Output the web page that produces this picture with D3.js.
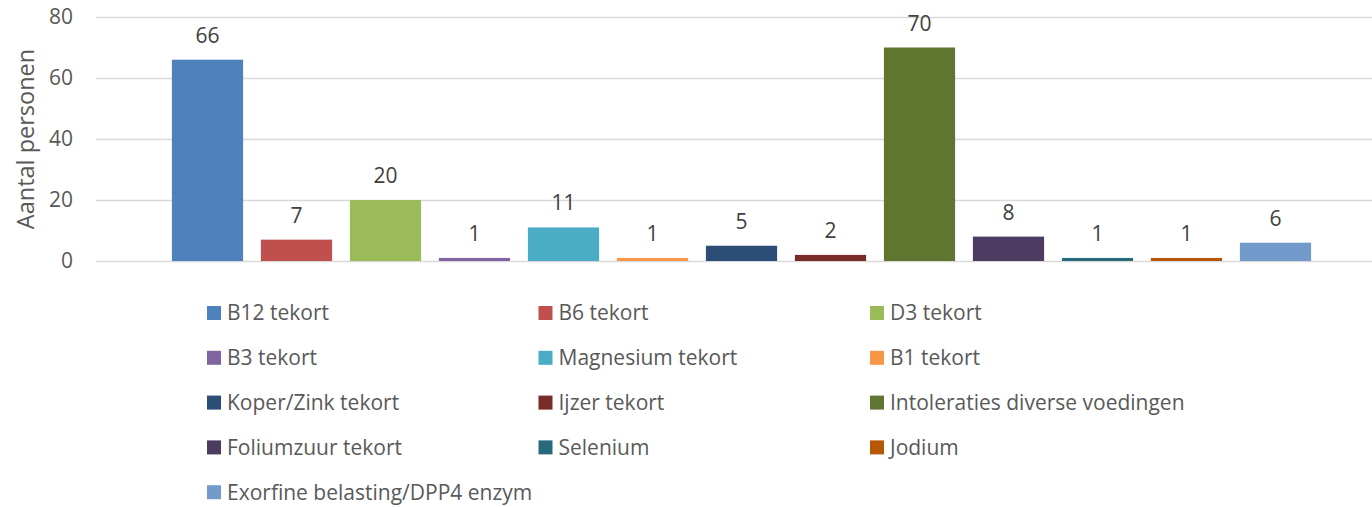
<!DOCTYPE html>
<html lang="nl">
    <head>
        <meta charset="utf-8">
        <title>Aantal personen</title>
        <script type="text/javascript" src="https://cdnjs.cloudflare.com/ajax/libs/d3/7.8.5/d3.min.js"></script>
        <style>
            body { margin: 0; background: #fff; }
            text { font-family: "Open Sans", "Noto Sans", sans-serif; }
        </style>
    </head>
    <body>
        <div id="chart"></div>
        <script type="text/javascript">
            // data
            var categories = ["B12 tekort", "B6 tekort", "D3 tekort", "B3 tekort", "Magnesium tekort", "B1 tekort",
                "Koper/Zink tekort", "Ijzer tekort", "Intoleraties diverse voedingen", "Foliumzuur tekort",
                "Selenium", "Jodium", "Exorfine belasting/DPP4 enzym"];
            var values = [66, 7, 20, 1, 11, 1, 5, 2, 70, 8, 1, 1, 6];
            var colors = ["#4f81bd", "#c0504d", "#9bbb59", "#8064a2", "#4bacc6", "#f79646",
                "#2c4d75", "#772c2a", "#5f7530", "#4d3b62", "#276a7c", "#b65708", "#729aca"];
            var yTicks = [0, 20, 40, 60, 80];

            var width = 1372, height = 507;

            var svg = d3.select("#chart").append("svg")
                .attr("width", width)
                .attr("height", height);

            var x = d3.scaleBand()
                .domain(categories)
                .range([163, 1320])
                .paddingInner(0.2)
                .paddingOuter(0.1);

            var y = d3.scaleLinear()
                .domain([0, 80])
                .range([261, 17]);

            //gridlines + tick labels
            var yAxis = d3.axisLeft(y)
                .tickValues(yTicks)
                .tickSize(-(width - 96))
                .tickPadding(23);
            var gy = svg.append("g")
                .attr("transform", "translate(96,0)")
                .call(yAxis);
            gy.select(".domain").remove();
            gy.selectAll(".tick line").attr("stroke", "#d9d9d9").attr("stroke-width", 1.5);
            gy.selectAll(".tick text")
                .attr("fill", "#595959")
                .style("font-size", "21px");

            svg.append("text")
                .attr("transform", "translate(34,139) rotate(-90)")
                .attr("text-anchor", "middle")
                .attr("fill", "#595959")
                .style("font-size", "23.5px")
                .text("Aantal personen");

            // bars
            svg.selectAll(".bar")
                .data(categories)
                .enter().append("rect")
                .attr("class", "bar")
                .attr("x", function(d) { return x(d); })
                .attr("width", x.bandwidth())
                .attr("y", function(d, i) { return y(values[i]); })
                .attr("height", function(d, i) { return y(0) - y(values[i]); })
                .attr("fill", function(d, i) { return colors[i]; });

            // data labels
            svg.selectAll(".label")
                .data(categories)
                .enter().append("text")
                .attr("class", "label")
                .attr("x", function(d) { return x(d) + x.bandwidth() / 2; })
                .attr("y", function(d, i) { return y(values[i]) - 17; })
                .attr("text-anchor", "middle")
                .attr("fill", "#404040")
                .style("font-size", "21px")
                .text(function(d, i) { return values[i]; });

            // legend, 3 columns
            var legend = svg.selectAll(".legend")
                .data(categories)
                .enter().append("g")
                .attr("class", "legend")
                .attr("transform", function(d, i) {
                    return "translate(" + (207 + (i % 3) * 331.5) + "," + (313 + Math.floor(i / 3) * 44.8) + ")";
                });
            legend.append("rect")
                .attr("x", 0)
                .attr("y", -7)
                .attr("width", 14)
                .attr("height", 14)
                .attr("fill", function(d, i) { return colors[i]; });
            legend.append("text")
                .attr("x", 20)
                .attr("y", 0)
                .attr("dy", "0.35em")
                .attr("fill", "#595959")
                .style("font-size", "21px")
                .text(function(d) { return d; });
        </script>
    </body>
</html>
